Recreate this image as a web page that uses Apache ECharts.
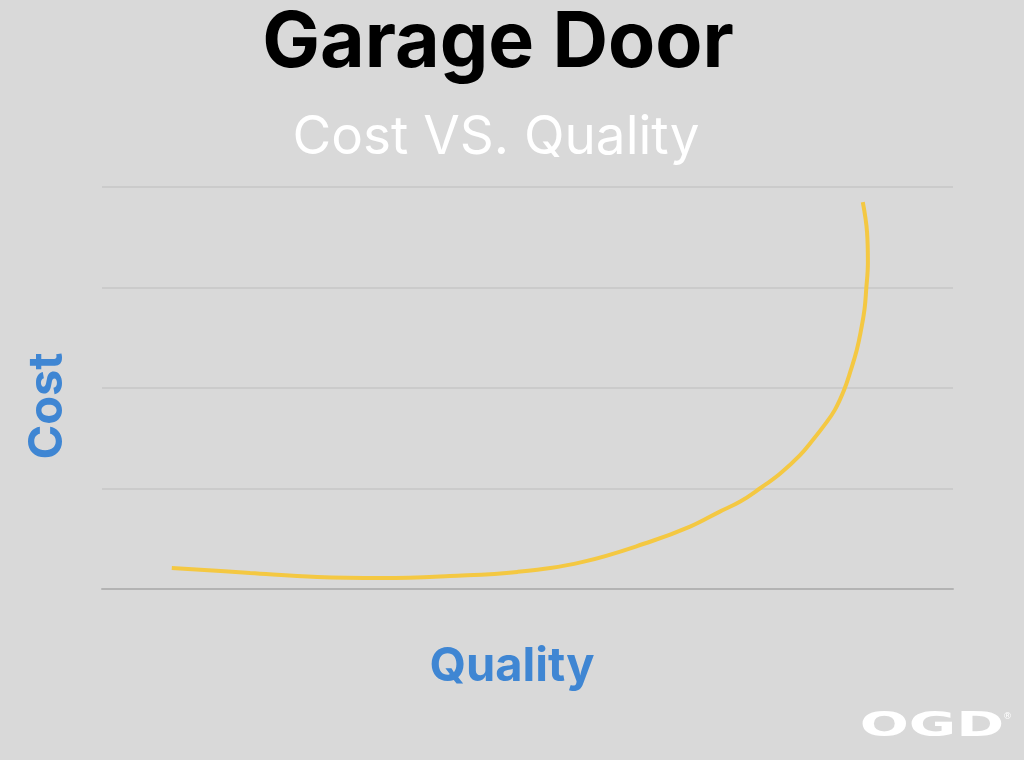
<!DOCTYPE html>
<html><head><meta charset="utf-8">
<script src="https://cdn.jsdelivr.net/npm/echarts@6/dist/echarts.min.js"></script>
<style>html,body{margin:0;padding:0;background:#d9d9d9}#c{width:1024px;height:760px}</style>
</head><body><div id="c"></div>
<script>
const titleText = "Garage Door";
const subtitleText = "Cost VS. Quality";
const xName = "Quality";
const yName = "Cost";
const logoText = "OGD";
const qualityValues = [0.82,1.74,2.53,3.30,4.09,4.88,5.65,6.44,6.91,7.26,7.50,7.73,7.97,8.20,8.35,8.48,8.61,8.72,8.80,8.87,8.92,8.96,8.98,9.00,8.99,8.94];
const costValues    = [0.21,0.16,0.12,0.11,0.13,0.17,0.27,0.47,0.62,0.77,0.87,1.00,1.15,1.33,1.48,1.62,1.78,1.98,2.18,2.38,2.58,2.78,2.98,3.25,3.55,3.85];
const yTicks = [0,1,2,3,4];

const chart = echarts.init(document.getElementById('c'));
chart.setOption({
  backgroundColor:'#d9d9d9',
  animation:false,
  grid:{left:102,right:71,top:187,bottom:171},
  xAxis:{type:'value',min:0,max:10,
    axisLine:{show:true,lineStyle:{color:'#b3b3b3',width:2}},axisTick:{show:false},axisLabel:{show:false},splitLine:{show:false}},
  yAxis:{type:'value',min:yTicks[0],max:yTicks[yTicks.length-1],interval:1,
    axisLine:{show:false},axisTick:{show:false},axisLabel:{show:false},
    splitLine:{lineStyle:{color:'#c6c6c6',width:1.5}}},
  series:[{type:'line',data:qualityValues.map((q,i)=>[q,costValues[i]]),smooth:0.4,showSymbol:false,
    lineStyle:{color:'#f4c842',width:4}}],
  graphic:[
    {type:'text',x:498,y:44,style:{text:titleText,fontFamily:'Inter',fontWeight:'bold',fontSize:77,fill:'#000000',align:'center',verticalAlign:'middle'}},
    {type:'text',x:496,y:138,style:{text:subtitleText,fontFamily:'Inter',fontWeight:'normal',fontSize:53,fill:'#ffffff',align:'center',verticalAlign:'middle'}},
    {type:'text',x:48,y:406,rotation:Math.PI/2,style:{text:yName,fontFamily:'Inter',fontWeight:'bold',fontSize:47,fill:'#3f86d3',align:'center',verticalAlign:'middle'}},
    {type:'text',x:512,y:667,style:{text:xName,fontFamily:'Inter',fontWeight:'bold',fontSize:47,fill:'#3f86d3',align:'center',verticalAlign:'middle'}},
    {type:'text',x:932,y:727,scaleX:1.7,style:{text:logoText,fontFamily:'DejaVu Sans',fontWeight:'bold',fontSize:34,fill:'#ffffff',align:'center',verticalAlign:'middle'}},
    {type:'text',left:1003,top:712,style:{text:'®',fontFamily:'DejaVu Sans',fontSize:9,fill:'#ffffff'}}
  ]
});
</script></body></html>
